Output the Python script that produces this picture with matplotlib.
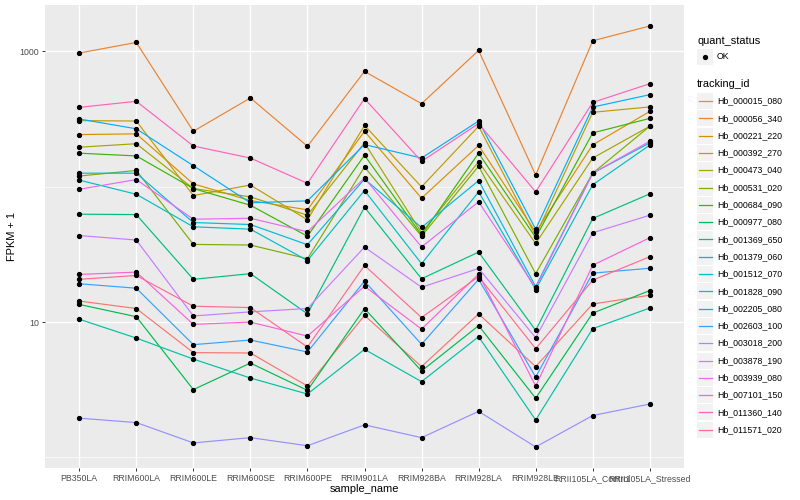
import matplotlib
matplotlib.use("Agg")
import matplotlib.pyplot as plt
import numpy as np
from matplotlib.lines import Line2D
from matplotlib.patches import Rectangle

plt.rcParams['font.family'] = ['Liberation Sans', 'DejaVu Sans']

samples = ["PB350LA", "RRIM600LA", "RRIM600LE", "RRIM600SE", "RRIM600PE",
           "RRIM901LA", "RRIM928BA", "RRIM928LA", "RRIM928LE",
           "RRII105LA_Control", "RRII105LA_Stressed"]

tracking_ids = ["Hb_000015_080", "Hb_000056_340", "Hb_000221_220", "Hb_000392_270",
                "Hb_000473_040", "Hb_000531_020", "Hb_000684_090", "Hb_000977_080",
                "Hb_001369_650", "Hb_001379_060", "Hb_001512_070", "Hb_001828_090",
                "Hb_002205_080", "Hb_002603_100", "Hb_003018_200", "Hb_003878_190",
                "Hb_003939_080", "Hb_007101_150", "Hb_011360_140", "Hb_011571_020"]

colors = ["#F8766D", "#EA8331", "#D89000", "#C09B00", "#A3A500", "#7CAE00", "#39B600",
          "#00BB4E", "#00BF7D", "#00C1A3", "#00BFC4", "#00BAE0", "#00B0F6", "#35A2FF",
          "#9590FF", "#C77CFF", "#E76BF3", "#FA62DB", "#FF62BC", "#FF6C91"]

# FPKM + 1 values per sample (order of `samples`)
Hb_000015_080 = [14.3, 12.6, 5.95, 5.91, 3.37, 11.2, 4.69, 11.5, 4.69, 13.6, 15.8]
Hb_000056_340 = [973, 1165, 257, 453, 199, 712, 411, 1017, 122, 1199, 1540]
Hb_000221_220 = [243, 246, 105, 79.1, 67.5, 257, 82.3, 202, 46.2, 204, 360]
Hb_000392_270 = [308, 306, 86.1, 103, 57.0, 284, 99.8, 280, 43.6, 355, 389]
Hb_000473_040 = [196, 208, 97.0, 84.2, 61.6, 211, 45.7, 153, 38.1, 163, 280]
Hb_000531_020 = [120, 132, 37.5, 37.1, 29.4, 140, 43.1, 142, 22.8, 126, 280]
Hb_000684_090 = [177, 169, 97.0, 73.0, 43.1, 171, 44.0, 177, 42.2, 250, 320]
Hb_000977_080 = [13.5, 10.96, 3.17, 4.98, 3.13, 12.6, 4.35, 9.41, 2.74, 11.65, 17.1]
Hb_001369_650 = [62.7, 62.3, 20.7, 22.8, 11.5, 70.6, 20.9, 32.9, 8.69, 58.3, 88.6]
Hb_001379_060 = [10.5, 7.62, 5.33, 3.86, 2.94, 6.29, 3.63, 7.80, 1.89, 8.94, 12.7]
Hb_001512_070 = [112, 88.0, 50.6, 48.6, 28.5, 93.8, 27.0, 91.7, 17.4, 103.5, 203]
Hb_001828_090 = [126, 126, 54.4, 52.6, 37.3, 114, 50.0, 111, 18.3, 126, 211]
Hb_002205_080 = [317, 268, 143, 76.1, 78.7, 205, 163, 306, 48.6, 388, 479]
Hb_002603_100 = [19.2, 17.8, 6.81, 7.37, 6.01, 20.1, 6.85, 20.7, 3.93, 23.0, 25.0]
Hb_003018_200 = [1.95, 1.81, 1.28, 1.40, 1.22, 1.74, 1.40, 2.19, 1.195, 2.04, 2.48]
Hb_003878_190 = [43.6, 40.4, 11.1, 11.9, 12.6, 35.8, 18.1, 24.9, 7.67, 45.7, 61.6]
Hb_003939_080 = [95.8, 113, 57.6, 58.5, 46.5, 116, 35.9, 77.4, 17.9, 126, 217]
Hb_007101_150 = [22.5, 23.4, 9.62, 10.0, 7.88, 18.4, 8.88, 22.6, 3.37, 26.3, 42.0]
Hb_011360_140 = [386, 428, 200, 163, 106, 448, 154, 293, 91.7, 420, 577]
Hb_011571_020 = [20.7, 22.1, 13.1, 12.8, 6.54, 26.2, 10.8, 21.7, 6.36, 20.4, 30.4]

series = [Hb_000015_080, Hb_000056_340, Hb_000221_220, Hb_000392_270, Hb_000473_040,
          Hb_000531_020, Hb_000684_090, Hb_000977_080, Hb_001369_650, Hb_001379_060,
          Hb_001512_070, Hb_001828_090, Hb_002205_080, Hb_002603_100, Hb_003018_200,
          Hb_003878_190, Hb_003939_080, Hb_007101_150, Hb_011360_140, Hb_011571_020]

W, H = 800, 500
fig = plt.figure(figsize=(W / 100, H / 100), dpi=100)
fig.patch.set_facecolor("white")

pl, pr, pt, pb = 45, 684, 5, 468
ax = fig.add_axes([pl / W, 1 - pb / H, (pr - pl) / W, (pb - pt) / H])
ax.set_facecolor("#EBEBEB")
for s in ax.spines.values():
    s.set_visible(False)

x = np.arange(len(samples))
for vals, c in zip(series, colors):
    ax.plot(x, vals, color=c, lw=0.85, zorder=3, solid_capstyle="butt")
for vals in series:
    ax.plot(x, vals, ls="none", marker="o", ms=2.8, color="black", zorder=4)

ax.set_yscale("log")
allv = np.log10(np.concatenate([np.asarray(v, float) for v in series]))
lo, hi = allv.min(), allv.max()
pad = 0.05 * (hi - lo)
ax.set_ylim(10 ** (lo - pad), 10 ** (hi + pad))
ax.set_xlim(-0.6, len(samples) - 0.4)

ax.set_yticks([10, 1000])
ax.set_yticklabels(["10", "1000"])
ax.set_yticks([1, 100], minor=True)
ax.set_yticklabels([], minor=True)
ax.set_xticks(x)
ax.set_xticklabels(samples)

ax.grid(which="major", color="white", lw=1.0)
ax.grid(which="minor", axis="y", color="white", lw=0.5)
ax.set_axisbelow(True)
ax.tick_params(which="major", length=2.2, width=0.7, color="#333333",
               labelsize=6.3, labelcolor="#4D4D4D", pad=2)
ax.tick_params(which="minor", length=0)

ax.set_xlabel("sample_name", fontsize=7.9, labelpad=1)
ax.set_ylabel("FPKM + 1", fontsize=7.9, labelpad=2)

# legend (drawn in figure pixel coordinates)
def fx(px):
    return px / W

def fy(py):
    return 1 - py / H

kx0, kw = 697, 16
fig.text(fx(697), fy(40.7), "quant_status", fontsize=7.9, va="center", ha="left")
fig.add_artist(Rectangle((fx(kx0), fy(56.7 + 8)), kw / W, 16 / H,
                         transform=fig.transFigure, facecolor="#F2F2F2", edgecolor="none"))
fig.add_artist(Line2D([fx(kx0 + kw / 2)], [fy(56.7)], marker="o", ms=2.8, color="black",
                      ls="none", transform=fig.transFigure))
fig.text(fx(717), fy(56.7), "OK", fontsize=6.3, va="center", ha="left")

fig.text(fx(697), fy(84.3), "tracking_id", fontsize=7.9, va="center", ha="left")
y0, dy = 101, 17.3
for i, (name, c) in enumerate(zip(tracking_ids, colors)):
    yc = y0 + i * dy
    fig.add_artist(Rectangle((fx(kx0), fy(yc + 8)), kw / W, 16 / H,
                             transform=fig.transFigure, facecolor="#F2F2F2", edgecolor="none"))
    fig.add_artist(Line2D([fx(kx0 + 1.5), fx(kx0 + kw - 1.5)], [fy(yc), fy(yc)],
                          color=c, lw=0.9, transform=fig.transFigure))
    fig.text(fx(717), fy(yc), name, fontsize=6.3, va="center", ha="left")

fig.savefig("out.png", dpi=100)
